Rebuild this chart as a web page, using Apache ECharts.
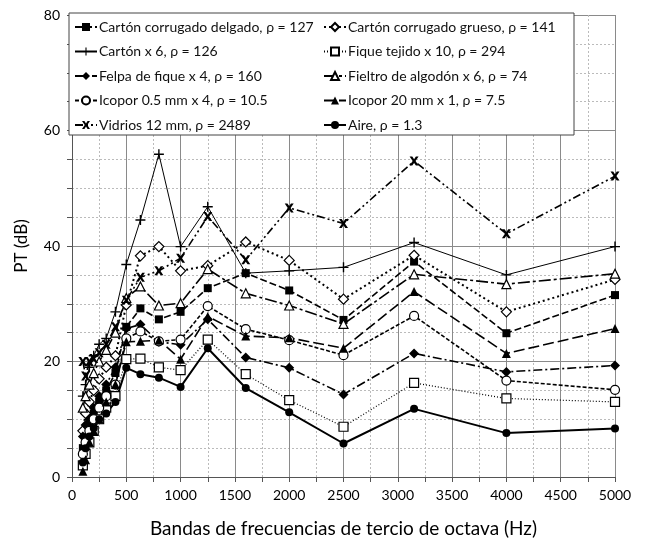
<!DOCTYPE html>
<html>
<head>
<meta charset="utf-8">
<script src="https://cdn.jsdelivr.net/npm/echarts@6/dist/echarts.min.js"></script>
<style>html,body{margin:0;padding:0;background:#fff}#c{width:646px;height:550px}</style>
</head>
<body>
<div id="c"></div>
<script>
const freqs = [100,125,160,200,250,315,400,500,630,800,1000,1250,1600,2000,2500,3150,4000,5000];
const cartonDelgado = [5,7,9,11,13,15,18,26,29.2,27.3,28.6,32.7,35.3,32.3,27.2,37.3,24.9,31.5];
const cartonGrueso  = [8,11,13,15,17,19,21,29.8,38.3,39.9,35.7,36.6,40.7,37.5,30.8,38.4,28.6,34.2];
const cartonX6      = [14,16,19,21,23,24,28.6,36.8,44.5,55.9,39.9,46.8,35.3,35.7,36.3,40.6,35.0,39.9];
const fiqueTejido   = [2,4,6,8,10,12,14,20.4,20.5,19.0,18.5,23.8,17.8,13.3,8.7,16.3,13.6,13.0];
const felpaFique    = [7,9,10,12,14,16,19,25.7,26.4,23.4,22.9,27.3,20.7,18.9,14.3,21.4,18.2,19.3];
const fieltro       = [12,14,16,18,20,22,25,31,33.0,29.7,30.1,36,31.8,29.7,26.5,35.1,33.4,35.2];
const icopor05      = [4,6,8,10,12,14,16,24,25.2,23.5,23.8,29.6,25.6,23.7,21.1,27.9,16.7,15.1];
const icopor20      = [1,3,6,8,10,13,16,23.4,23.5,23.7,20.4,27.8,24.4,24.1,22.3,32.1,21.4,25.7];
const vidrios       = [20,17.5,20,20.5,21.5,23,26,30.6,34.6,35.7,37.9,45.1,37.6,46.6,43.9,54.7,42.1,52.1];
const aire          = [2.5,5,7,8.5,10,11,13,18.9,17.8,17.2,15.6,22.3,15.4,11.2,5.8,11.8,7.6,8.4];
const names = [
  'Cartón corrugado delgado, ρ = 127','Cartón corrugado grueso, ρ = 141',
  'Cartón x 6, ρ = 126','Fique tejido x 10, ρ = 294',
  'Felpa de fique x 4, ρ = 160','Fieltro de algodón x 6, ρ = 74',
  'Icopor 0.5 mm x 4, ρ = 10.5','Icopor 20 mm x 1, ρ = 7.5',
  'Vidrios 12 mm, ρ = 2489','Aire, ρ = 1.3'
];
const xTicks = {min:0,max:5000,interval:500};
const yTicks = {min:0,max:80,interval:20};

const PLUS = 'path://M4.3,0h1.4v4.3h4.3v1.4h-4.3v4.3h-1.4v-4.3h-4.3v-1.4h4.3z';
const CROSS = 'path://M0,0L3,0L5,3L7,0L10,0L6.6,5L10,10L7,10L5,7L3,10L0,10L3.4,5Z';
const K = '#000';
function mk(name, data, symbol, size, filled, dash, width){
  return {
    name, type:'line', data: freqs.map((f,i)=>[f,data[i]]),
    symbol, symbolSize:size, showSymbol:true,
    itemStyle:{color: filled? K : '#fff', borderColor:K, borderWidth: filled?0:1.2},
    lineStyle:{color:K, width:width, type:dash},
    emphasis:{disabled:true}, animation:false
  };
}
const series = [
  mk(names[0], cartonDelgado, 'rect', 8, true, [7,3], 1.6),
  mk(names[1], cartonGrueso, 'diamond', 10, false, [2,3], 2),
  mk(names[2], cartonX6, PLUS, 10, true, 'solid', 1),
  mk(names[3], fiqueTejido, 'rect', 9, false, [1,2], 1.2),
  mk(names[4], felpaFique, 'diamond', 10, true, [9,3,2,3], 1.6),
  mk(names[5], fieltro, 'triangle', 9, false, [12,3,3,3], 1.6),
  mk(names[6], icopor05, 'circle', 9, false, [4,2], 1.6),
  mk(names[7], icopor20, 'triangle', 9, true, [11,4], 1.6),
  mk(names[8], vidrios, CROSS, 9, true, [8,3,2,3,2,3], 1.6),
  mk(names[9], aire, 'circle', 8, true, 'solid', 2)
];
const font = 'Lato';
const legendCommon = {
  orient:'vertical', itemWidth:22, itemHeight:10, itemGap:10.5,
  textStyle:{fontFamily:font, fontSize:14, color:'#111', padding:[0,0,0,-3]},
  selectedMode:false, z:10
};
const chart = echarts.init(document.getElementById('c'), null, {renderer:'canvas'});
chart.setOption({
  animation:false,
  backgroundColor:'#fff',
  grid:{left:72, right:31, top:15, bottom:73, containLabel:false},
  graphic:[{type:'rect', shape:{x:69, y:13, width:505, height:122}, style:{fill:'#fff', stroke:'#444', lineWidth:1}, z:5}],
  legend:[
    Object.assign({left:69, top:15, data:[names[0],names[2],names[4],names[6],names[8]]}, legendCommon),
    Object.assign({left:318, top:15, data:[names[1],names[3],names[5],names[7],names[9]]}, legendCommon)
  ],
  xAxis:{
    type:'value', min:xTicks.min, max:xTicks.max, interval:xTicks.interval,
    name:'Bandas de frecuencias de tercio de octava (Hz)', nameLocation:'middle', nameGap:42,
    nameTextStyle:{fontFamily:font, fontSize:19, color:'#000'},
    axisLine:{lineStyle:{color:'#555', width:1}},
    axisTick:{show:true, inside:false, length:5, lineStyle:{color:'#555'}},
    minorTick:{show:true, splitNumber:2, length:5, lineStyle:{color:'#555'}},
    axisLabel:{fontFamily:font, fontSize:14, color:'#000', margin:11, formatter:v=>String(v)},
    splitLine:{show:true, lineStyle:{color:'#8a8a8a', width:1}},
    minorSplitLine:{show:true, lineStyle:{color:'#bbb', width:1, type:[2,2]}}
  },
  yAxis:{
    type:'value', min:yTicks.min, max:yTicks.max, interval:yTicks.interval,
    name:'PT (dB)', nameLocation:'middle', nameGap:42, nameRotate:90,
    nameTextStyle:{fontFamily:font, fontSize:17, color:'#000'},
    axisLine:{show:true, lineStyle:{color:'#555', width:1}},
    axisTick:{show:true, inside:false, length:5, lineStyle:{color:'#555'}},
    minorTick:{show:true, splitNumber:4, length:5, lineStyle:{color:'#555'}},
    axisLabel:{fontFamily:font, fontSize:14, color:'#000', margin:12, formatter:v=>String(v)},
    splitLine:{show:true, lineStyle:{color:'#8a8a8a', width:1}},
    minorSplitLine:{show:true, lineStyle:{color:'#bbb', width:1, type:[2,2]}}
  },
  series
});
</script>
</body>
</html>
